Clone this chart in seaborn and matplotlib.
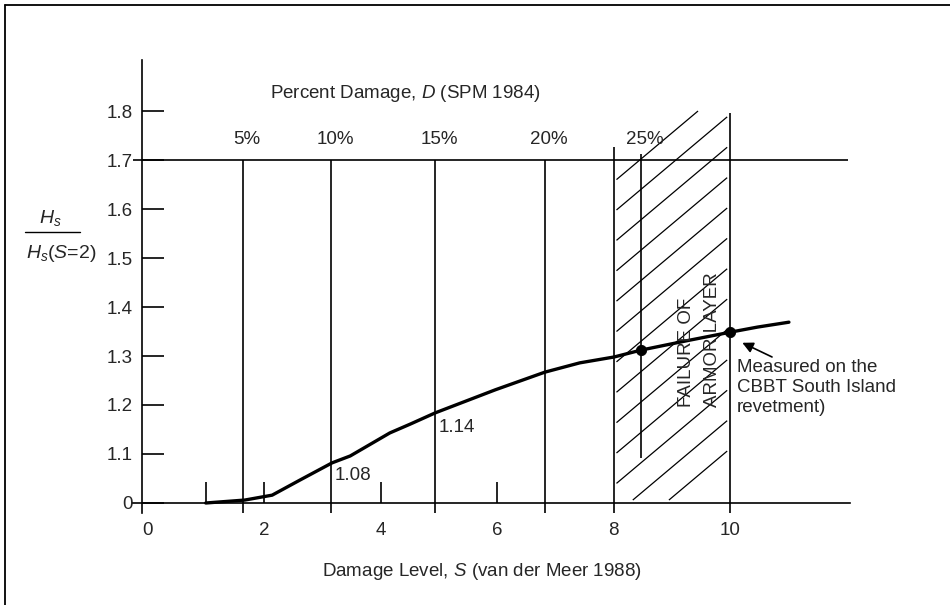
import numpy as np
import pandas as pd
import matplotlib
matplotlib.use("Agg")
import matplotlib.pyplot as plt
from matplotlib.lines import Line2D
import seaborn as sns

# ---------------- data ----------------
S_curve = [1.0, 1.67, 2.14, 2.62, 3.17, 3.48, 4.16, 4.51, 4.94, 5.97, 6.82, 7.42, 8.01, 8.47, 9.25, 10.02, 10.47, 11.01]
H_curve = [1.0, 1.006, 1.016, 1.047, 1.082, 1.096, 1.143, 1.161, 1.184, 1.231, 1.267, 1.286, 1.298, 1.312, 1.331, 1.349, 1.359, 1.369]
S_points = [8.47, 10.0]
H_points = [1.312, 1.349]
pct_labels = ["5%", "10%", "15%", "20%", "25%"]
pct_S = [1.64, 3.15, 4.94, 6.82, 8.47]
x_ticks = [0, 2, 4, 6, 8, 10]
x_ticklabels = ["0", "2", "4", "6", "8", "10"]
x_minor = [1, 2, 4, 6]
y_ticks = [1.0, 1.1, 1.2, 1.3, 1.4, 1.5, 1.6, 1.7, 1.8]
y_ticklabels = ["0", "1.1", "1.2", "1.3", "1.4", "1.5", "1.6", "1.7", "1.8"]
failure_S = [8.0, 10.0]
ref_line_H = 1.7

sns.set_theme(style="white")
plt.rcParams["font.family"] = ["Liberation Sans", "DejaVu Sans"]
plt.rcParams["mathtext.fontset"] = "custom"
plt.rcParams["mathtext.rm"] = "Liberation Sans"
plt.rcParams["mathtext.it"] = "Liberation Sans:italic"

W, H = 950, 605
fig = plt.figure(figsize=(9.5, 6.05), dpi=100)
fig.patch.set_facecolor("white")

# axes occupying px x 130..860, y 55..520
ax = fig.add_axes([130 / W, 1 - 520 / H, 730 / W, 465 / H])
ax.set_facecolor("white")
ax.set_xlim(-0.30, 12.23)
ax.set_ylim(0.9653, 1.9143)

lw = 1.2
for s in ["top", "right"]:
    ax.spines[s].set_visible(False)
ax.spines["left"].set_position(("data", -0.09))
ax.spines["left"].set_bounds(0.98, 1.904)
ax.spines["bottom"].set_position(("data", 1.0))
ax.spines["bottom"].set_bounds(-0.25, 12.06)
for s in ["left", "bottom"]:
    ax.spines[s].set_color("black")
    ax.spines[s].set_linewidth(lw)

ax.set_yticks(y_ticks)
ax.set_yticklabels(y_ticklabels)
ax.tick_params(axis="y", direction="in", length=16, width=lw, color="black",
               labelsize=13.5, pad=7, left=True)
ax.xaxis.remove_overlapping_locs = False
ax.set_xticks(x_ticks)
ax.set_xticklabels(x_ticklabels)
ax.set_xticks(x_minor, minor=True)
ax.tick_params(axis="x", which="major", length=0, labelsize=13.5, pad=14, bottom=True)
ax.tick_params(axis="x", which="minor", direction="in", length=15, width=lw,
               color="black", bottom=True)
ax.grid(False)

# reference horizontal line at 1.7
ax.hlines(ref_line_H, -0.25, 12.02, color="black", lw=lw)

# percent damage verticals + labels
for lab, s in zip(pct_labels, pct_S):
    if lab == "25%":
        ax.vlines(s, 1.092, 1.712, color="black", lw=lw)
    else:
        ax.vlines(s, 0.98, ref_line_H, color="black", lw=lw)
    ax.text(s + 0.07, 1.742, lab, ha="center", va="center", fontsize=13.5)

# failure region boundaries
ax.vlines(failure_S[0], 0.98, 1.727, color="black", lw=lw)
ax.vlines(failure_S[1], 0.98, 1.796, color="black", lw=lw)

# hatch lines inside failure region
k = 0.10
s0, s1 = failure_S[0] + 0.05, failure_S[1] - 0.05
ylo, yhi = 1.006, 1.80
for b in np.arange(1.66, 0.90, -0.062):
    a = max(s0, s0 + (ylo - b) / k)
    e = min(s1, s0 + (yhi - b) / k)
    if e > a:
        xs = np.array([a, e])
        ax.plot(xs, b + k * (xs - s0), color="black", lw=0.9, solid_capstyle="butt")

# curve and points
df = pd.DataFrame({"S": S_curve, "H": H_curve})
sns.lineplot(data=df, x="S", y="H", ax=ax, color="black", lw=2.4, sort=False)
pts = pd.DataFrame({"S": S_points, "H": H_points})
sns.scatterplot(data=pts, x="S", y="H", ax=ax, color="black", s=55, edgecolor="black", zorder=5)
ax.set_xlabel("")
ax.set_ylabel("")

# value labels
ax.text(3.22, 1.057, "1.08", ha="left", va="center", fontsize=13.5)
ax.text(4.99, 1.155, "1.14", ha="left", va="center", fontsize=13.5)

# failure text (rotated)
ax.text(9.26, 1.196, "FAILURE OF", rotation=90, ha="center", va="bottom", fontsize=13.5)
ax.text(9.69, 1.196, "ARMOR LAYER", rotation=90, ha="center", va="bottom", fontsize=13.5)

# annotation
ax.annotate("", xy=(10.21, 1.327), xytext=(10.72, 1.298),
            arrowprops=dict(arrowstyle="-|>", color="black", lw=1.2,
                            mutation_scale=16, shrinkA=0, shrinkB=0))
ax.text(10.12, 1.293, "Measured on the\nCBBT South Island\nrevetment)",
        ha="left", va="top", fontsize=13.5, linespacing=1.2)

# top title (secondary scale)
fig.text(405 / W, 1 - 93 / H, r"Percent Damage, $\it{D}$ (SPM 1984)", ha="center", va="center", fontsize=13.5)
# x label
fig.text(482 / W, 1 - 571 / H, r"Damage Level, $\it{S}$ (van der Meer 1988)", ha="center", va="center", fontsize=13.5)
# y label as fraction
fig.text(50 / W, 1 - 218 / H, r"$H_s$", ha="center", va="center", fontsize=14)
fig.add_artist(Line2D([25 / W, 80 / W], [1 - 232 / H, 1 - 232 / H], color="black", lw=1.0,
                      transform=fig.transFigure))
fig.text(26 / W, 1 - 254 / H, r"$H_s$($S$=2)", ha="left", va="center", fontsize=14)

# figure frame (top and left)
fig.add_artist(Line2D([5 / W, 1.0], [1 - 5 / H, 1 - 5 / H], color="black", lw=1.3, transform=fig.transFigure))
fig.add_artist(Line2D([5 / W, 5 / W], [0, 1 - 5 / H], color="black", lw=1.3, transform=fig.transFigure))

fig.savefig("out.png", dpi=100, facecolor="white")
